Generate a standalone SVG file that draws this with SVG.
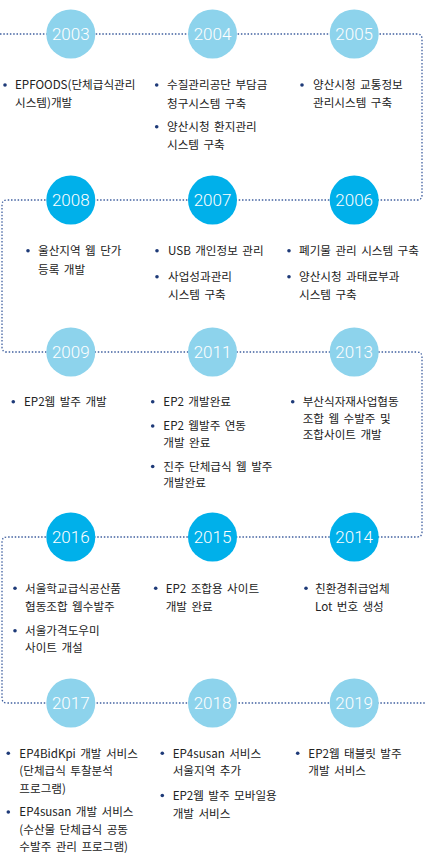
<svg xmlns="http://www.w3.org/2000/svg" width="425" height="860" viewBox="0 0 425 860">
<style>
.c1{fill:#8dd3ec}
.c2{fill:#00b0ea}
.yr{font-family:Roboto,"Liberation Sans",sans-serif;font-size:17px;fill:#ffffff;text-anchor:middle;font-weight:300}
.t{font-family:"Noto Sans CJK KR","Noto Sans",sans-serif;font-size:11.6px;fill:#222222;word-spacing:1.8px}
.b{fill:#1e3a78}
.ln{fill:none;stroke:#3f5f9f;stroke-width:1.3;stroke-dasharray:1.5 1.8}
</style>
<rect width="425" height="860" fill="#ffffff"/>
<g id="connectors">
<path class="ln" d="M0,34 H417 Q422,34 422,39 V195 Q422,200 417,200 H7 Q2,200 2,205 V347 Q2,352 7,352 H417 Q422,352 422,357 V532 Q422,537 417,537 H7 Q2,537 2,542 V698 Q2,703 7,703 H425"/>
</g>

<g id="n2003">
<circle class="c1" cx="70.8" cy="34" r="24.5"/>
<text class="yr" x="70.8" y="40">2003</text>
<circle class="b" cx="5" cy="85" r="1.8"/>
<text class="t" x="15" y="89.3">EPFOODS(단체급식관리</text>
<text class="t" x="15" y="107.3">시스템)개발</text>
</g>
<g id="n2004">
<circle class="c1" cx="212.5" cy="34" r="24.5"/>
<text class="yr" x="212.5" y="40">2004</text>
<circle class="b" cx="156.7" cy="85" r="1.8"/>
<text class="t" x="167" y="89.3">수질관리공단 부담금</text>
<text class="t" x="167" y="107.5">청구시스템 구축</text>
<circle class="b" cx="156.7" cy="126.7" r="1.8"/>
<text class="t" x="167" y="131">양산시청 환지관리</text>
<text class="t" x="167" y="149.3">시스템 구축</text>
</g>
<g id="n2005">
<circle class="c1" cx="354.2" cy="34" r="24.5"/>
<text class="yr" x="354.2" y="40">2005</text>
<circle class="b" cx="302" cy="85" r="1.8"/>
<text class="t" x="313" y="89.3">양산시청 교통정보</text>
<text class="t" x="313" y="107.3">관리시스템 구축</text>
</g>

<g id="n2008">
<circle class="c2" cx="70.8" cy="200" r="24.5"/>
<text class="yr" x="70.8" y="206">2008</text>
<circle class="b" cx="28" cy="250.7" r="1.8"/>
<text class="t" x="38" y="255">울산지역 웹 단가</text>
<text class="t" x="38" y="273.5">등록 개발</text>
</g>
<g id="n2007">
<circle class="c2" cx="212.5" cy="200" r="24.5"/>
<text class="yr" x="212.5" y="206">2007</text>
<circle class="b" cx="157" cy="250.7" r="1.8"/>
<text class="t" x="168" y="255">USB 개인정보 관리</text>
<circle class="b" cx="157" cy="276.7" r="1.8"/>
<text class="t" x="168" y="281">사업성과관리</text>
<text class="t" x="168" y="298.6">시스템 구축</text>
</g>
<g id="n2006">
<circle class="c2" cx="354.2" cy="200" r="24.5"/>
<text class="yr" x="354.2" y="206">2006</text>
<circle class="b" cx="289" cy="250.7" r="1.8"/>
<text class="t" x="299" y="255">폐기물 관리 시스템 구축</text>
<circle class="b" cx="289" cy="276.7" r="1.8"/>
<text class="t" x="299" y="281">양산시청 과태료부과</text>
<text class="t" x="299" y="298.6">시스템 구축</text>
</g>

<g id="n2009">
<circle class="c1" cx="70.8" cy="352" r="24.5"/>
<text class="yr" x="70.8" y="358">2009</text>
<circle class="b" cx="13.3" cy="401.7" r="1.8"/>
<text class="t" x="24" y="406">EP2웹 발주 개발</text>
</g>
<g id="n2011">
<circle class="c1" cx="212.5" cy="352" r="24.5"/>
<text class="yr" x="212.5" y="358">2011</text>
<circle class="b" cx="152.7" cy="401.7" r="1.8"/>
<text class="t" x="163.3" y="406">EP2 개발완료</text>
<circle class="b" cx="152.7" cy="426" r="1.8"/>
<text class="t" x="163.3" y="430.3">EP2 웹발주 연동</text>
<text class="t" x="163.3" y="446.5">개발 완료</text>
<circle class="b" cx="152.7" cy="466.5" r="1.8"/>
<text class="t" x="163.3" y="470.8">진주 단체급식 웹 발주</text>
<text class="t" x="163.3" y="487">개발완료</text>
</g>
<g id="n2013">
<circle class="c1" cx="354.2" cy="352" r="24.5"/>
<text class="yr" x="354.2" y="358">2013</text>
<circle class="b" cx="292.7" cy="401.7" r="1.8"/>
<text class="t" x="302.7" y="406">부산식자재사업협동</text>
<text class="t" x="302.7" y="422.8">조합 웹 수발주 및</text>
<text class="t" x="302.7" y="439.3">조합사이트 개발</text>
</g>

<g id="n2016">
<circle class="c2" cx="70.8" cy="537" r="24.5"/>
<text class="yr" x="70.8" y="543">2016</text>
<circle class="b" cx="15" cy="588.3" r="1.8"/>
<text class="t" x="25" y="592.6">서울학교급식공산품</text>
<text class="t" x="25" y="611">협동조합 웹수발주</text>
<circle class="b" cx="15" cy="630.7" r="1.8"/>
<text class="t" x="25" y="635">서울가격도우미</text>
<text class="t" x="25" y="652">사이트 개설</text>
</g>
<g id="n2015">
<circle class="c2" cx="212.5" cy="537" r="24.5"/>
<text class="yr" x="212.5" y="543">2015</text>
<circle class="b" cx="155.7" cy="588.3" r="1.8"/>
<text class="t" x="165.7" y="592.6">EP2 조합용 사이트</text>
<text class="t" x="165.7" y="611">개발 완료</text>
</g>
<g id="n2014">
<circle class="c2" cx="354.2" cy="537" r="24.5"/>
<text class="yr" x="354.2" y="543">2014</text>
<circle class="b" cx="306" cy="588.3" r="1.8"/>
<text class="t" x="315" y="592.6">친환경취급업체</text>
<text class="t" x="315" y="611">Lot 번호 생성</text>
</g>

<g id="n2017">
<circle class="c1" cx="70.8" cy="703" r="24.5"/>
<text class="yr" x="70.8" y="709">2017</text>
<circle class="b" cx="8.3" cy="753.3" r="1.8"/>
<text class="t" x="19.3" y="757.6">EP4BidKpi 개발 서비스</text>
<text class="t" x="19.3" y="775.3">(단체급식 투찰분석</text>
<text class="t" x="19.3" y="792.8">프로그램)</text>
<circle class="b" cx="8.3" cy="812" r="1.8"/>
<text class="t" x="19.3" y="816.3">EP4susan 개발 서비스</text>
<text class="t" x="19.3" y="833.8">(수산물 단체급식 공동</text>
<text class="t" x="19.3" y="851.3">수발주 관리 프로그램)</text>
</g>
<g id="n2018">
<circle class="c1" cx="212.5" cy="703" r="24.5"/>
<text class="yr" x="212.5" y="709">2018</text>
<circle class="b" cx="162.3" cy="753.3" r="1.8"/>
<text class="t" x="172.7" y="757.6">EP4susan 서비스</text>
<text class="t" x="172.7" y="775.3">서울지역 추가</text>
<circle class="b" cx="162.3" cy="795.5" r="1.8"/>
<text class="t" x="172.7" y="799.8">EP2웹 발주 모바일용</text>
<text class="t" x="172.7" y="817.5">개발 서비스</text>
</g>
<g id="n2019">
<circle class="c1" cx="354.2" cy="703" r="24.5"/>
<text class="yr" x="354.2" y="709">2019</text>
<circle class="b" cx="297.7" cy="753.3" r="1.8"/>
<text class="t" x="308.3" y="757.6">EP2웹 태블릿 발주</text>
<text class="t" x="308.3" y="775.3">개발 서비스</text>
</g>
</svg>
